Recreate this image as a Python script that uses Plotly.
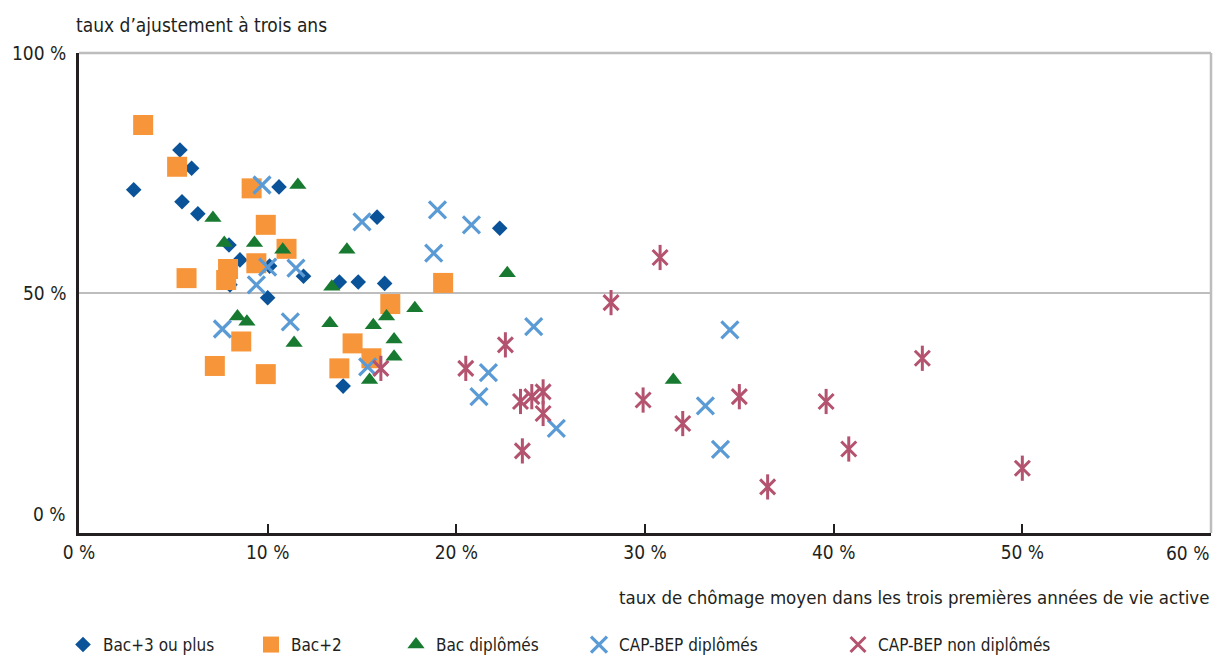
import plotly.graph_objects as go

# ---- data (x: taux de chômage %, y: taux d'ajustement %) ----
bac3_x = [2.9, 5.35, 5.97, 5.46, 6.3, 7.95, 8.53, 8.0, 10.0, 10.6, 11.9, 13.8, 14.8, 16.2, 15.8, 22.3, 14.0, 10.1]
bac3_y = [71.5, 79.8, 76.0, 69.0, 66.5, 60.0, 56.9, 51.7, 49.0, 72.1, 53.5, 52.3, 52.3, 52.0, 65.8, 63.5, 30.6, 55.6]

bac2_x = [3.4, 5.2, 9.15, 9.9, 11.0, 5.7, 7.9, 7.8, 9.4, 8.6, 7.2, 9.9, 16.5, 19.3, 14.5, 13.8, 15.5]
bac2_y = [85.0, 76.3, 71.8, 64.2, 59.2, 53.1, 55.0, 52.7, 56.2, 39.9, 34.8, 33.1, 47.7, 52.1, 39.5, 34.3, 36.4]

bacd_x = [7.1, 7.7, 9.3, 10.8, 11.6, 14.2, 13.4, 8.4, 8.9, 11.4, 13.3, 15.6, 16.3, 17.8, 16.7, 16.7, 15.4, 22.7, 31.5]
bacd_y = [65.6, 60.4, 60.4, 59.0, 72.5, 59.0, 51.3, 45.1, 44.0, 39.6, 43.7, 43.3, 45.1, 46.8, 40.3, 36.7, 31.9, 54.1, 31.9]

capd_x = [9.7, 10.0, 9.4, 11.5, 15.0, 19.0, 20.8, 18.8, 7.6, 11.2, 15.3, 24.1, 21.7, 21.2, 25.3, 34.5, 33.2, 34.0]
capd_y = [72.5, 55.4, 51.7, 55.2, 64.8, 67.3, 64.2, 58.3, 42.5, 44.0, 34.6, 43.0, 33.4, 28.4, 21.8, 42.3, 26.5, 17.4]

capn_x = [16.0, 20.5, 22.6, 28.2, 30.8, 23.4, 24.0, 24.6, 24.6, 23.5, 29.9, 32.0, 35.0, 39.6, 40.8, 36.5, 44.7, 50.0]
capn_y = [34.3, 34.3, 39.2, 48.0, 57.4, 27.4, 28.4, 29.4, 24.9, 17.1, 27.7, 22.8, 28.4, 27.4, 17.5, 9.6, 36.4, 13.5]

series_names = ["Bac+3 ou plus", "Bac+2", "Bac diplômés", "CAP-BEP diplômés", "CAP-BEP non diplômés"]
x_ticks = [0, 10, 20, 30, 40, 50, 60]
x_ticktext = ["0 %", "10 %", "20 %", "30 %", "40 %", "50 %", "60 %"]
y_ticks = [0, 50, 100]
y_ticktext = ["0 %", "50 %", "100 %"]

FONT = "Liberation Sans Narrow, DejaVu Sans Condensed, Arial Narrow, sans-serif"
TXT = "#231F20"

C_BAC3 = "#0B5399"
C_BAC2 = "#F7953A"
C_BACD = "#177A30"
C_CAPD = "#5B9BD5"
C_CAPN = "#B4536F"

FIG_W, FIG_H = 1213, 655

fig = go.Figure()

fig.add_trace(go.Scatter(x=bac3_x, y=bac3_y, mode="markers", name=series_names[0], legend="legend",
                         marker=dict(symbol="diamond", size=12, color=C_BAC3, line=dict(width=0))))
fig.add_trace(go.Scatter(x=bac2_x, y=bac2_y, mode="markers", name=series_names[1], legend="legend2",
                         marker=dict(symbol="square", size=20, color=C_BAC2, line=dict(width=0))))
fig.add_trace(go.Scatter(x=bacd_x, y=bacd_y, mode="markers", name=series_names[2], legend="legend3",
                         marker=dict(symbol="triangle-up", size=15, color=C_BACD, line=dict(width=0))))
fig.add_trace(go.Scatter(x=capd_x, y=capd_y, mode="markers", name=series_names[3], legend="legend4",
                         marker=dict(symbol="x-thin-open", size=17, color=C_CAPD, line=dict(width=3.2, color=C_CAPD))))
fig.add_trace(go.Scatter(x=capn_x, y=capn_y, mode="markers", name=series_names[4], legend="legend5",
                         marker=dict(symbol="x-thin-open", size=15, color=C_CAPN, line=dict(width=3, color=C_CAPN))))
fig.add_trace(go.Scatter(x=capn_x, y=capn_y, mode="markers", name=series_names[4], showlegend=False,
                         marker=dict(symbol="line-ns-open", size=18, color=C_CAPN, line=dict(width=3, color=C_CAPN))))

leg_common = dict(orientation="h", yref="container", y=(FIG_H - 645) / float(FIG_H), yanchor="middle",
                  xref="container", xanchor="left",
                  font=dict(family=FONT, size=17, color=TXT), bgcolor="rgba(0,0,0,0)",
                  itemwidth=30, tracegroupgap=0)
leg_px = [63, 251, 396, 579, 838]
fig.update_layout(
    legend=dict(x=leg_px[0] / float(FIG_W), **leg_common),
    legend2=dict(x=leg_px[1] / float(FIG_W), **leg_common),
    legend3=dict(x=leg_px[2] / float(FIG_W), **leg_common),
    legend4=dict(x=leg_px[3] / float(FIG_W), **leg_common),
    legend5=dict(x=leg_px[4] / float(FIG_W), **leg_common),
)

# last tick label is right-aligned to the frame (as in the source), so draw it apart
fig.update_xaxes(range=[0, 60], tickvals=x_ticks, ticktext=x_ticktext[:-1] + [""], automargin=False,
                 showgrid=False, zeroline=False, showline=True, linecolor="#231F20", linewidth=2.5,
                 ticks="inside", ticklen=9, tickwidth=2, tickcolor="#231F20",
                 tickfont=dict(family=FONT, size=19, color=TXT))
fig.add_annotation(x=x_ticks[-1], xref="x", y=0, yref="paper", text=x_ticktext[-1], showarrow=False,
                   xanchor="right", yanchor="middle", xshift=0, yshift=-20,
                   font=dict(family=FONT, size=19, color=TXT))

fig.update_yaxes(range=[0, 100], tickvals=y_ticks, showticklabels=False, automargin=False,
                 showgrid=True, gridcolor="#BDBDBD", gridwidth=1.5, zeroline=False,
                 showline=True, linecolor="#231F20", linewidth=2.5, ticks="")

# y tick labels (0 % sits slightly above its axis, as in the source)
y_shift = {0: 19, 50: 0, 100: 0}
for v, t in zip(y_ticks, y_ticktext):
    fig.add_annotation(x=0, xref="paper", y=v, yref="y", text=t, showarrow=False,
                       xanchor="right", yanchor="middle", xshift=-11, yshift=y_shift[v],
                       font=dict(family=FONT, size=19, color=TXT))

# axis titles
fig.add_annotation(x=0, xref="paper", y=1, yref="paper", text="taux d’ajustement à trois ans",
                   showarrow=False, xanchor="left", yanchor="middle", xshift=-5, yshift=28,
                   font=dict(family=FONT, size=19, color=TXT))
fig.add_annotation(x=1, xref="paper", y=0, yref="paper",
                   text="taux de chômage moyen dans les trois premières années de vie active",
                   showarrow=False, xanchor="right", yanchor="middle", xshift=0, yshift=-64,
                   font=dict(family=FONT, size=18.5, color=TXT))

# grey frame top/right
fig.add_shape(type="line", xref="paper", yref="paper", x0=0, x1=1, y0=1, y1=1,
              line=dict(color="#BDBDBD", width=2.5))
fig.add_shape(type="line", xref="paper", yref="paper", x0=1, x1=1, y0=0, y1=1,
              line=dict(color="#BDBDBD", width=2.5))

fig.update_layout(width=FIG_W, height=FIG_H,
                  margin=dict(l=79, r=FIG_W - 1211, t=53, b=FIG_H - 533, autoexpand=False),
                  plot_bgcolor="white", paper_bgcolor="white",
                  font=dict(family=FONT, color=TXT))

fig.write_html("out.html", config={"displayModeBar": False},
               post_script="document.body.style.margin='0';document.body.style.overflow='hidden';")
